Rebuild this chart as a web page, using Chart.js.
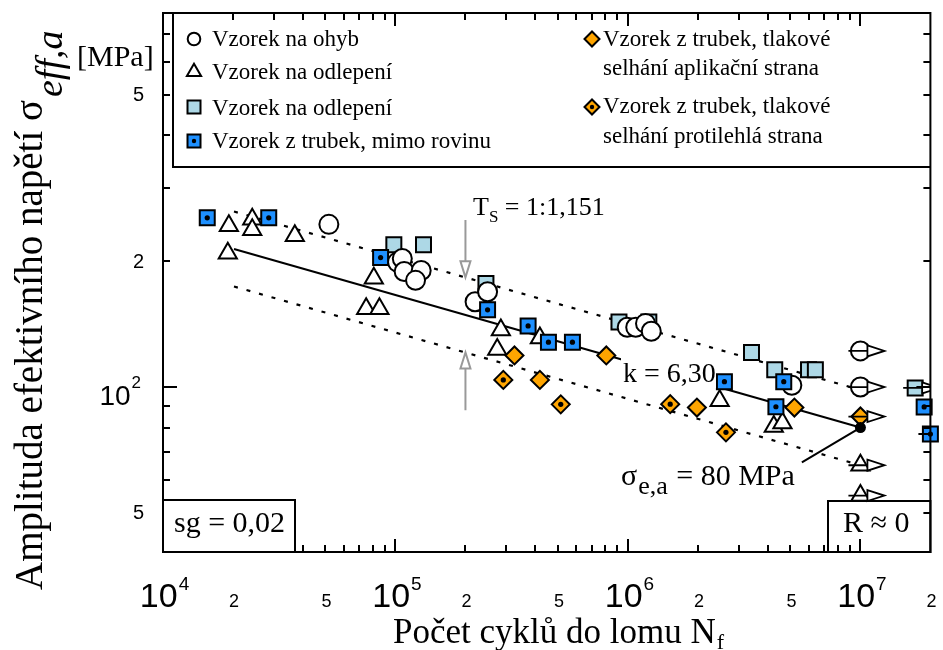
<!DOCTYPE html>
<html lang="cs">
<head>
<meta charset="utf-8">
<title>Wöhlerova křivka</title>
<script src="https://cdn.jsdelivr.net/npm/chart.js@4.4.1/dist/chart.umd.min.js"></script>
<style>
html,body{margin:0;padding:0;background:#fff;overflow:hidden;}
#wrap{position:relative;width:943px;height:650px;}
canvas{display:block;}
</style>
</head>
<body>
<div id="wrap"><canvas id="chart" width="943" height="650"></canvas></div>
<script>
// ---------------- DATA ----------------
// Vzorek na ohyb (circles)
const ohybN = [51700, 102000, 107000, 109000, 129000, 122000, 220000, 249000, 993000, 1080000, 1190000, 1260000, 5070000];
const ohybS = [245, 199, 203, 189, 190, 180, 160, 169, 139, 139, 142, 136, 101];
const ohybRunN = [1e7, 1e7];
const ohybRunS = [122, 100];

// Vzorek na odlepení (triangles)
const triN = [19000, 19200, 24200, 24200, 36900, 74800, 80700, 85300, 274000, 284000, 418000, 2480000, 4240000, 4620000];
const triS = [209, 243, 252, 238, 230, 154, 182, 154, 123, 137, 131, 92.7, 80.5, 82.0];
const triRunN = [1e7, 1e7];
const triRunS = [65, 55];

// Vzorek na odlepení (light blue squares)
const sqN = [98400, 132000, 245000, 915000, 1230000, 3400000, 4280000, 5980000, 6400000];
const sqS = [219, 219, 177, 143, 143, 121, 110, 110, 110];
const sqRunN = [1.72e7];
const sqRunS = [99.5];

// Vzorek z trubek, mimo rovinu (blue squares with dot)
const trubN = [15500, 28500, 86300, 249000, 372000, 455000, 577000, 2600000, 4330000, 4680000, 1.88e7];
const trubS = [254, 254, 204, 153, 140, 128, 128, 103, 89.7, 103, 89.6];
const trubRunN = [2e7];
const trubRunS = [77.2];

// Vzorek z trubek, tlakové selhání aplikační strana (orange diamonds)
const aplN = [325000, 418000, 807000, 1980000, 5200000];
const aplS = [119, 104, 119, 89.3, 89.3];
const aplRunN = [1e7];
const aplRunS = [85];

// Vzorek z trubek, tlakové selhání protilehlá strana (orange diamonds with dot)
const protN = [291000, 514000, 1520000, 2640000];
const protS = [104, 90.9, 91.0, 77.9];

// Mean S-N line (k = 6,30) and scatter band (dotted)
const meanN = [2.02e4, 1e7];
const meanS = [214, 80];
const upperN = [2.02e4, 1e7];
const upperS = [263, 98.4];
const lowerN = [2.02e4, 1e7];
const lowerS = [174, 65];

// Endurance limit sigma_e,a = 80 MPa and its leader line
const enduranceN = [1e7];
const enduranceS = [80];
const leaderN = [5.6e6, 1e7];
const leaderS = [66, 80];

// T_S arrows at N = 2e5
const tsArrowN = [2e5];
const tsFromS = [251, 88];
const tsTipS = [183, 121];

// Axis ticks and labels
const xRange = [1e4, 2e7];
const yRange = [40.3, 785];
const xTickValues = [1e4, 2e4, 5e4, 1e5, 2e5, 5e5, 1e6, 2e6, 5e6, 1e7, 2e7];
const xTickLabels = ['10^4', '2', '5', '10^5', '2', '5', '10^6', '2', '5', '10^7', '2'];
const yTickValues = [50, 100, 200, 500];
const yTickLabels = ['5', '10^2', '2', '5'];

// Texts
const xTitle = 'Počet cyklů do lomu N';
const xTitleSub = 'f';
const yTitle = 'Amplituda efektivního napětí σ';
const yTitleSub = 'eff,a';
const yUnit = '[MPa]';
const legendLeft = [
  {m: 'circle', t: 'Vzorek na ohyb'},
  {m: 'tri', t: 'Vzorek na odlepení'},
  {m: 'sqLight', t: 'Vzorek na odlepení'},
  {m: 'sqBlue', t: 'Vzorek z trubek, mimo rovinu'}
];
const legendRight = [
  {m: 'dia', t: ['Vzorek z trubek, tlakové', 'selhání aplikační strana']},
  {m: 'diaDot', t: ['Vzorek z trubek, tlakové', 'selhání protilehlá strana']}
];

// ---------------- STYLE ----------------
const SERIF = '"Liberation Serif", "Times New Roman", serif';
const SANS = '"Liberation Sans", Arial, sans-serif';
const C_LIGHT = '#add8e6', C_BLUE = '#1e90ff', C_ORANGE = '#ffa500';

const pts = (N, S) => N.map((n, i) => ({x: n, y: S[i]}));

function markerDs(label, N, S, style, radius, bg, order, runout) {
  return {
    label, data: pts(N, S), pointStyle: style, pointRadius: radius, pointHoverRadius: radius,
    backgroundColor: bg, borderColor: '#000', borderWidth: 2, pointBorderWidth: 2,
    showLine: false, clip: false, order, runout: !!runout
  };
}
function dotDs(N, S, order) {
  return {
    label: 'dot', data: pts(N, S), pointStyle: 'circle', pointRadius: 2.6, pointHoverRadius: 2.6,
    backgroundColor: '#000', borderColor: '#000', borderWidth: 0, pointBorderWidth: 0,
    showLine: false, clip: false, order
  };
}
function lineDs(label, N, S, dash, width, order) {
  return {
    label, data: pts(N, S), showLine: true, pointRadius: 0, pointHoverRadius: 0,
    borderColor: '#000', borderWidth: width, borderDash: dash, backgroundColor: '#000',
    fill: false, order
  };
}

const datasets = [
  lineDs('upper', upperN, upperS, [4, 9], 2.2, 30),
  lineDs('lower', lowerN, lowerS, [4, 9], 2.2, 30),
  lineDs('mean', meanN, meanS, [], 2, 29),
  markerDs('sq', sqN, sqS, 'rect', 10.6, C_LIGHT, 20),
  markerDs('sqRun', sqRunN, sqRunS, 'rect', 10.6, C_LIGHT, 20, true),
  markerDs('ohyb', ohybN, ohybS, 'circle', 9.5, '#fff', 19),
  markerDs('ohybRun', ohybRunN, ohybRunS, 'circle', 9.5, '#fff', 19, true),
  markerDs('tri', triN, triS, 'triangle', 10.5, '#fff', 18),
  markerDs('triRun', triRunN, triRunS, 'triangle', 10.5, '#fff', 18, true),
  markerDs('trub', trubN, trubS, 'rect', 10.6, C_BLUE, 17),
  markerDs('trubRun', trubRunN, trubRunS, 'rect', 10.6, C_BLUE, 17, true),
  dotDs(trubN, trubS, 16),
  dotDs(trubRunN, trubRunS, 16),
  markerDs('apl', aplN, aplS, 'rectRot', 9, C_ORANGE, 15),
  markerDs('aplRun', aplRunN, aplRunS, 'rectRot', 9, C_ORANGE, 15, true),
  markerDs('prot', protN, protS, 'rectRot', 9, C_ORANGE, 14),
  dotDs(protN, protS, 13),
  lineDs('leader', leaderN, leaderS, [], 2, 12),
  {label: 'endurance', data: pts(enduranceN, enduranceS), pointStyle: 'circle', pointRadius: 5.5,
   pointHoverRadius: 5.5, backgroundColor: '#000', borderColor: '#000', borderWidth: 0,
   showLine: false, clip: false, order: 11}
];

// ---------------- DRAW HELPERS ----------------
function legendMark(ctx, m, x, y) {
  ctx.save();
  ctx.lineWidth = 2; ctx.strokeStyle = '#000';
  ctx.beginPath();
  if (m === 'circle') { ctx.arc(x, y, 6.3, 0, Math.PI * 2); ctx.fillStyle = '#fff'; }
  else if (m === 'tri') { const r = 8.2; ctx.moveTo(x, y - r); ctx.lineTo(x + r * 0.866, y + r / 2); ctx.lineTo(x - r * 0.866, y + r / 2); ctx.closePath(); ctx.fillStyle = '#fff'; }
  else if (m === 'sqLight' || m === 'sqBlue') { ctx.rect(x - 6.5, y - 6.5, 13, 13); ctx.fillStyle = m === 'sqLight' ? C_LIGHT : C_BLUE; }
  else { const r = 7.5; ctx.moveTo(x - r, y); ctx.lineTo(x, y - r); ctx.lineTo(x + r, y); ctx.lineTo(x, y + r); ctx.closePath(); ctx.fillStyle = C_ORANGE; }
  ctx.fill(); ctx.stroke();
  if (m === 'sqBlue' || m === 'diaDot') { ctx.beginPath(); ctx.arc(x, y, 2.2, 0, Math.PI * 2); ctx.fillStyle = '#000'; ctx.fill(); }
  ctx.restore();
}

const deco = {
  id: 'deco',
  afterDatasetsDraw(chart) {
    const {ctx, chartArea: a, scales: {x: xs, y: ys}} = chart;
    // run-out arrows
    ctx.save();
    ctx.beginPath(); ctx.rect(a.left, a.top, a.right - a.left, a.bottom - a.top); ctx.clip();
    chart.data.datasets.forEach(ds => {
      if (!ds.runout) return;
      ds.data.forEach(p => {
        const px = xs.getPixelForValue(p.x), py = ys.getPixelForValue(p.y);
        ctx.strokeStyle = '#000'; ctx.lineWidth = 1.8;
        ctx.beginPath(); ctx.moveTo(px - 12, py); ctx.lineTo(px + 8, py); ctx.stroke();
        ctx.beginPath(); ctx.moveTo(px + 7, py - 5.5); ctx.lineTo(px + 24, py); ctx.lineTo(px + 7, py + 5.5); ctx.closePath();
        ctx.fillStyle = '#fff'; ctx.fill(); ctx.stroke();
      });
    });
    ctx.restore();

    // T_S grey arrows
    ctx.save();
    ctx.strokeStyle = '#999'; ctx.fillStyle = '#fff'; ctx.lineWidth = 2;
    const ax = xs.getPixelForValue(tsArrowN[0]);
    for (let i = 0; i < 2; i++) {
      const y0 = ys.getPixelForValue(tsFromS[i]), y1 = ys.getPixelForValue(tsTipS[i]);
      const d = Math.sign(y1 - y0);
      ctx.beginPath(); ctx.moveTo(ax, y0); ctx.lineTo(ax, y1 - d * 15); ctx.stroke();
      ctx.beginPath(); ctx.moveTo(ax, y1); ctx.lineTo(ax - 5, y1 - d * 16); ctx.lineTo(ax + 5, y1 - d * 16); ctx.closePath();
      ctx.fill(); ctx.stroke();
    }
    ctx.restore();

    // k label with white background (interrupts the mean line)
    ctx.save();
    ctx.fillStyle = '#fff';
    ctx.fillRect(621, 357, 95, 31);
    ctx.fillStyle = '#000'; ctx.font = '28px ' + SERIF; ctx.textBaseline = 'alphabetic';
    ctx.fillText('k = 6,30', 623, 382);
    ctx.restore();
  },
  afterDraw(chart) {
    const {ctx, chartArea: a, scales: {x: xs, y: ys}} = chart;
    ctx.save();
    ctx.strokeStyle = '#000'; ctx.fillStyle = '#000'; ctx.lineWidth = 2;
    ctx.textBaseline = 'alphabetic';

    // legend box
    ctx.beginPath(); ctx.moveTo(a.left + 10, a.top); ctx.lineTo(a.left + 10, 167); ctx.lineTo(a.right, 167); ctx.stroke();
    // frame
    ctx.strokeRect(a.left, a.top, a.right - a.left, a.bottom - a.top);

    // ticks (inward, all four sides)
    ctx.beginPath();
    for (let d = 1e4; d <= 1e7; d *= 10) {
      for (let m = 1; m <= 9; m++) {
        const v = m * d;
        if (v <= xRange[0] || v >= xRange[1]) continue;
        const px = Math.round(xs.getPixelForValue(v)), len = m === 1 ? 13 : 7;
        ctx.moveTo(px, a.bottom); ctx.lineTo(px, a.bottom - len);
        ctx.moveTo(px, a.top); ctx.lineTo(px, a.top + len);
      }
    }
    for (let d = 10; d <= 100; d *= 10) {
      for (let m = 1; m <= 9; m++) {
        const v = m * d;
        if (v <= yRange[0] || v >= yRange[1]) continue;
        const py = Math.round(ys.getPixelForValue(v)), len = m === 1 ? 14 : 7;
        ctx.moveTo(a.left, py); ctx.lineTo(a.left + len, py);
        ctx.moveTo(a.right, py); ctx.lineTo(a.right - len, py);
      }
    }
    ctx.stroke();

    // x tick labels
    xTickValues.forEach((v, i) => {
      const px = xs.getPixelForValue(v), lab = xTickLabels[i];
      if (lab.includes('^')) {
        const [b, e] = lab.split('^');
        ctx.font = '34px ' + SANS; const wb = ctx.measureText(b).width;
        ctx.font = '19px ' + SANS; const we = ctx.measureText(e).width;
        const x0 = px - (wb + we) / 2 + 1;
        ctx.font = '34px ' + SANS; ctx.textAlign = 'left'; ctx.fillText(b, x0, 607);
        ctx.font = '19px ' + SANS; ctx.fillText(e, x0 + wb + 1, 590);
      } else {
        ctx.font = '18px ' + SANS; ctx.textAlign = 'center'; ctx.fillText(lab, px + 1, 607);
      }
    });
    // y tick labels
    yTickValues.forEach((v, i) => {
      const py = ys.getPixelForValue(v), lab = yTickLabels[i];
      if (lab.includes('^')) {
        const [b, e] = lab.split('^');
        ctx.font = '17px ' + SANS; ctx.textAlign = 'right'; ctx.fillText(e, 141, py + 1);
        const we = ctx.measureText(e).width;
        ctx.font = '28px ' + SANS; ctx.fillText(b, 141 - we - 1, py + 18);
      } else {
        ctx.font = '20px ' + SANS; ctx.textAlign = 'right'; ctx.textBaseline = 'middle';
        ctx.fillText(lab, 144, py + 1);
        ctx.textBaseline = 'alphabetic';
      }
    });
    ctx.textAlign = 'left';

    // x title
    ctx.font = '35px ' + SERIF;
    ctx.fillText(xTitle, 393, 643);
    const wx = ctx.measureText(xTitle).width;
    ctx.font = '22px ' + SERIF; ctx.fillText(xTitleSub, 393 + wx + 1, 649);

    // y title (rotated)
    ctx.save();
    ctx.translate(42, 590); ctx.rotate(-Math.PI / 2);
    ctx.font = '39px ' + SERIF; ctx.fillText(yTitle, 0, 0);
    const wy = ctx.measureText(yTitle).width;
    ctx.font = 'italic 38px ' + SERIF; ctx.fillText(yTitleSub, wy + 3, 20);
    ctx.restore();
    ctx.font = '30px ' + SERIF; ctx.fillText(yUnit, 77, 66);

    // legend
    ctx.font = '23px ' + SERIF;
    const lRowsM = [39, 72, 107, 141], lRowsT = [46, 79, 115, 148];
    legendLeft.forEach((it, i) => { legendMark(ctx, it.m, 194, lRowsM[i]); ctx.fillText(it.t, 212, lRowsT[i]); });
    const rM = [39, 107], rT = [[46, 75], [113, 143]];
    legendRight.forEach((it, i) => {
      legendMark(ctx, it.m, 592, rM[i]);
      ctx.fillText(it.t[0], 603, rT[i][0]); ctx.fillText(it.t[1], 603, rT[i][1]);
    });

    // T_S label
    ctx.font = '26px ' + SERIF; ctx.fillText('T', 473, 215);
    let wt = ctx.measureText('T').width;
    ctx.font = '17px ' + SERIF; ctx.fillText('S', 473 + wt, 222);
    const ws = ctx.measureText('S').width;
    ctx.font = '26px ' + SERIF; ctx.fillText(' = 1:1,151', 473 + wt + ws, 215);

    // sigma_e,a label
    ctx.font = '30px ' + SERIF; ctx.fillText('σ', 621, 485);
    const wsig = ctx.measureText('σ').width;
    ctx.font = '26px ' + SERIF; ctx.fillText('e,a', 621 + wsig + 1, 494);
    const wea = ctx.measureText('e,a').width;
    ctx.font = '30px ' + SERIF; ctx.fillText(' = 80 MPa', 621 + wsig + wea + 2, 485);

    // sg and R boxes
    ctx.fillStyle = '#fff';
    ctx.fillRect(a.left, 500, 132, a.bottom - 500);
    ctx.strokeRect(a.left, 500, 132, a.bottom - 500);
    ctx.strokeRect(828, 501, a.right - 828, a.bottom - 501);
    ctx.fillStyle = '#000';
    ctx.font = '30px ' + SERIF;
    ctx.fillText('sg = 0,02', 174, 532);
    ctx.fillText('R ≈ 0', 843, 532);
    ctx.restore();
  }
};

new Chart(document.getElementById('chart').getContext('2d'), {
  type: 'scatter',
  data: {datasets},
  options: {
    responsive: false,
    animation: false,
    devicePixelRatio: 1,
    events: [],
    layout: {padding: {left: 163, top: 13, right: 11, bottom: 98}},
    scales: {
      x: {type: 'logarithmic', min: xRange[0], max: xRange[1], display: false},
      y: {type: 'logarithmic', min: yRange[0], max: yRange[1], display: false}
    },
    plugins: {legend: {display: false}, tooltip: {enabled: false}}
  },
  plugins: [deco]
});
</script>
</body>
</html>
